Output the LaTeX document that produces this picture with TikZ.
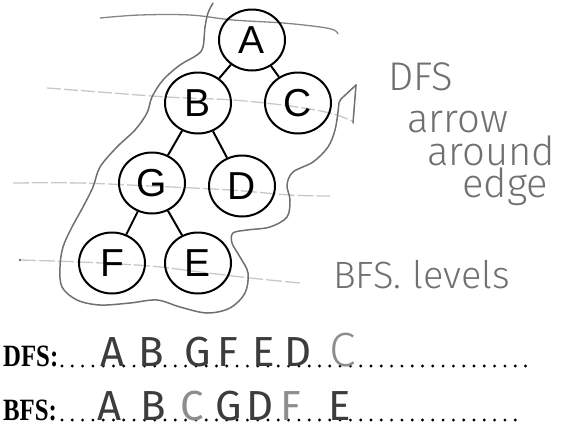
\documentclass[tikz,border=0pt]{standalone}
\usepackage{fontspec}
\setmainfont{Liberation Sans}
\newfontfamily\handfont{Fira Sans Light}
\newfontfamily\penfont{Fira Sans}
\newfontfamily\labelfont{Liberation Serif}
\usetikzlibrary{shapes.geometric}
\definecolor{pencil}{HTML}{707070}
\definecolor{ink}{HTML}{3C3C3C}
\definecolor{faint}{HTML}{C8C8C8}
\begin{document}
\begin{tikzpicture}[x=1pt,y=-1pt,
  vertex/.style={ellipse, draw, line width=2pt, minimum width=66pt, minimum height=61pt,
    inner sep=0pt, font=\fontsize{39}{39}\selectfont},
  branch/.style={line width=2pt},
  level/.style={faint, line width=1.3pt},
  route/.style={pencil, line width=1.5pt, line cap=round, line join=round},
  note/.style={pencil, inner sep=0pt, text depth=0pt, font=\handfont\fontsize{40}{40}\selectfont},
  heading/.style={inner sep=0pt, xscale=0.8, font=\labelfont\bfseries\fontsize{31}{31}\selectfont},
  answer/.style={ink, inner sep=0pt, text depth=0pt, font=\penfont\fontsize{42}{42}\selectfont},
  answerlight/.style={answer, pencil!80},
  leader/.style={fill=black}]
\useasboundingbox (0,0) rectangle (562,429);

% BFS level lines through each row of the tree
\draw[level, draw=pencil!85] plot[smooth, tension=0.6] coordinates
  {(100,18) (140,15) (190,15) (233,20) (283,23) (320,27) (334,30) (338,34)};
\draw[level, dash pattern=on 14pt off 3pt] plot[smooth, tension=0.6] coordinates
  {(47,88) (100,92) (167,97) (233,100) (290,106) (330,113) (352,121)};
\draw[level, dash pattern=on 16pt off 3pt] plot[smooth, tension=0.6] coordinates
  {(13,183) (80,183) (150,186) (230,190) (290,195) (330,196)};
\draw[level, dash pattern=on 16pt off 3pt] plot[smooth, tension=0.6] coordinates
  {(20,260) (80,262) (150,266) (200,272) (250,278) (300,283)};
\fill[pencil] (20,260) circle (1.3pt);

% tree
\node[vertex] (a) at (252,40) {A};
\node[vertex] (b) at (198,103) {B};
\node[vertex] (c) at (298,103) {C};
\node[vertex] (g) at (152,183) {G};
\node[vertex] (d) at (242,186) {D};
\node[vertex] (f) at (112,263) {F};
\node[vertex] (e) at (198,263) {E};
\draw[branch] (a) -- (b);
\draw[branch] (a) -- (c);
\draw[branch] (b) -- (g);
\draw[branch] (b) -- (d);
\draw[branch] (g) -- (f);
\draw[branch] (g) -- (e);

% DFS walk around the outside of the tree
\coordinate (walkend) at (341,99);
\coordinate (tip) at (356,85);
\coordinate (shaft) at (353,123);
\draw[route] plot[smooth, tension=0.55] coordinates
  {(213,3) (208,13) (205,27) (203,47) (197,55) (180,65) (163,80) (152,97) (147,113)
   (135,130) (117,147) (100,167) (93,187) (83,207) (72,227) (63,247) (60,267) (62,287)
   (77,300) (100,305) (130,303) (157,300) (180,307) (207,313) (230,308) (245,293)
   (248,273) (240,257) (232,243) (233,233) (247,230) (270,227) (287,217) (290,200)
   (287,185) (293,172) (313,162) (328,147) (335,130) (338,112) (339,103) (341,99)};
\draw[route] (walkend) -- (tip);
\draw[route] (shaft) -- (tip);

% notes
\node[note, anchor=base west] (n1) at (388,90) {DFS};
\node[note, anchor=base west] (n2) at (407,132) {arrow};
\node[note, anchor=base west] (n3) at (427,165) {around};
\node[note, anchor=base west] (n4) at (462,197) {edge};
\node[note, anchor=base west, font=\handfont\fontsize{38}{38}\selectfont] (n5) at (333,288) {BFS. levels};

% answer lines
\node[heading, anchor=base west] (dfs) at (3,366) {DFS:};
\node[heading, anchor=base west] (bfs) at (3,420) {BFS:};
\foreach \k in {0,...,45} \fill[leader] (62+10.3*\k,366) circle (1.6pt);
\foreach \k in {0,...,44} \fill[leader] (62+10.3*\k,420) circle (1.6pt);

\node[answer, anchor=base] (d1) at (113,366) {A};
\node[answer, anchor=base] (d2) at (151,366) {B};
\node[answer, anchor=base] (d3) at (198,366) {G};
\node[answer, anchor=base] (d4) at (228,366) {F};
\node[answer, anchor=base] (d5) at (264,366) {E};
\node[answer, anchor=base] (d6) at (298,366) {D};
\node[answerlight, anchor=base, font=\handfont\fontsize{48}{48}\selectfont] (d7) at (343,366) {C};

\node[answer, anchor=base] (b1) at (110,420) {A};
\node[answer, anchor=base] (b2) at (153,420) {B};
\node[answerlight, anchor=base] (b3) at (192,420) {C};
\node[answer, anchor=base] (b4) at (229,420) {G};
\node[answer, anchor=base] (b5) at (260,420) {D};
\node[answerlight, anchor=base] (b6) at (291,420) {F};
\node[answer, anchor=base] (b7) at (340,420) {E};
\end{tikzpicture}
\end{document}
